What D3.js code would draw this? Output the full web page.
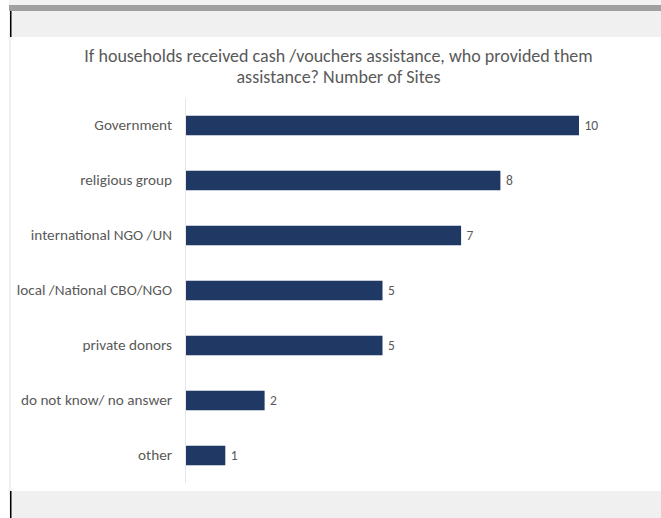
<!DOCTYPE html>
<html>
<head>
<meta charset="utf-8">
<script src="https://cdn.jsdelivr.net/npm/d3@7"></script>
<style>
  html, body { margin: 0; padding: 0; background: #ffffff; }
  svg { display: block; }
</style>
</head>
<body>
<svg id="chart" width="661" height="518"></svg>
<script>
const categories = ["Government", "religious group", "international NGO /UN", "local /National CBO/NGO", "private donors", "do not know/ no answer", "other"];
const values = [10, 8, 7, 5, 5, 2, 1];
const titleLines = ["If households received cash /vouchers assistance, who provided them", "assistance? Number of Sites"];

const W = 661, H = 518;
const svg = d3.select("#chart");
const font = "Carlito, Calibri, Lato, 'Open Sans', sans-serif";

// page frame
svg.append("rect").attr("x", 9).attr("y", 0).attr("width", W - 9).attr("height", 5).attr("fill", "#f2f2f2");
svg.append("rect").attr("x", 9).attr("y", 5).attr("width", W - 9).attr("height", 6).attr("fill", "#a0a0a0");
svg.append("rect").attr("x", 9).attr("y", 11).attr("width", W - 9).attr("height", 26).attr("fill", "#f0f0f0");
svg.append("rect").attr("x", 9).attr("y", 37).attr("width", 2).attr("height", 454).attr("fill", "#f0f0f0");
svg.append("rect").attr("x", 9).attr("y", 491).attr("width", W - 9).attr("height", H - 491).attr("fill", "#f0f0f0");
svg.append("rect").attr("x", 10).attr("y", 11).attr("width", 1.5).attr("height", 26).attr("fill", "#000");
svg.append("rect").attr("x", 10).attr("y", 491).attr("width", 1.5).attr("height", H - 491).attr("fill", "#000");

// title
const title = svg.append("text")
  .attr("text-anchor", "middle")
  .attr("font-family", font)
  .attr("font-size", 18)
  .attr("fill", "#595959");
titleLines.forEach((t, i) => {
  title.append("tspan").attr("x", 338.5).attr("y", 62 + i * 21).text(t);
});

// scales
const x = d3.scaleLinear().domain([0, 10]).range([186, 579]);
const y = d3.scaleBand().domain(categories).range([98, 483]).paddingInner(0.645).paddingOuter(0.3225);

// axis line
svg.append("line")
  .attr("x1", 185.5).attr("x2", 185.5)
  .attr("y1", 98).attr("y2", 483)
  .attr("stroke", "#e6e6e6").attr("stroke-width", 1);

// bars
svg.selectAll("rect.bar").data(categories).enter().append("rect")
  .attr("class", "bar")
  .attr("x", x(0))
  .attr("y", d => y(d))
  .attr("width", (d, i) => x(values[i]) - x(0))
  .attr("height", y.bandwidth())
  .attr("fill", "#203864");

// category labels via axis
const yAxis = d3.axisLeft(y).tickSize(0).tickPadding(0);
const ag = svg.append("g").attr("transform", "translate(172,0)").call(yAxis);
ag.select(".domain").remove();
ag.selectAll("text")
  .attr("font-family", font)
  .attr("font-size", 15.2)
  .attr("fill", "#595959");

// value labels
svg.selectAll("text.val").data(categories).enter().append("text")
  .attr("class", "val")
  .attr("x", (d, i) => x(values[i]) + 5.5)
  .attr("y", d => y(d) + y.bandwidth() / 2)
  .attr("dy", "0.35em")
  .attr("font-family", font)
  .attr("font-size", 13.5)
  .attr("fill", "#595959")
  .text((d, i) => values[i]);
</script>
</body>
</html>
